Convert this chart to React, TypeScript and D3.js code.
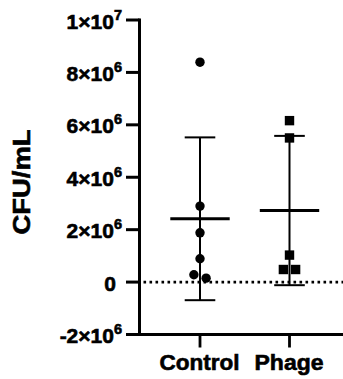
import React from "react";
import * as d3 from "d3";

const groups = ["Control", "Phage"];
const controlValues = [8.39e6, 2.9e6, 1.88e6, 0.89e6, 0.28e6, 0.15e6];
const phageValues = [6.16e6, 5.5e6, 1.03e6, 0.48e6, 0.48e6];
const yTicks = [-2e6, 0, 2e6, 4e6, 6e6, 8e6, 1e7];
const yTickLabels = [
  { base: "-2×10", exp: "6" },
  { base: "0", exp: "" },
  { base: "2×10", exp: "6" },
  { base: "4×10", exp: "6" },
  { base: "6×10", exp: "6" },
  { base: "8×10", exp: "6" },
  { base: "1×10", exp: "7" },
];
const yTitle = "CFU/mL";

const W = 343;
const H = 379;
const FONT = "Arial, 'Liberation Sans', Helvetica, sans-serif";

export default function App() {
  const y = d3.scaleLinear().domain([-2e6, 1e7]).range([334.5, 20]);
  const x = d3.scalePoint().domain(groups).range([200, 289.5]);
  const axisX = 139.5;
  const axisBottom = y(-2e6);
  const series = [controlValues, phageValues];
  const markerSize = 9.4;
  const labelWidths: Record<string, number> = { Control: 80, Phage: 69 };

  const placePoints = (vals: number[]) => {
    const pts = vals.map((v) => ({ v, py: y(v), dx: 0 }));
    const sorted = [...pts].sort((a, b) => a.py - b.py);
    const clusters: typeof pts[] = [];
    sorted.forEach((p) => {
      const last = clusters[clusters.length - 1];
      if (last && Math.abs(p.py - last[last.length - 1].py) < markerSize * 0.6) last.push(p);
      else clusters.push([p]);
    });
    clusters.forEach((c) => {
      const n = c.length;
      c.forEach((p, i) => {
        p.dx = (i - (n - 1) / 2) * (markerSize * 1.3);
      });
    });
    return pts;
  };

  const textStroke = { stroke: "#000", strokeWidth: 0.6 };

  return (
    <svg
      width={W}
      height={H}
      style={{ position: "absolute", left: 0, top: 0, display: "block", background: "#fff" }}
      fontFamily={FONT}
    >
      <line
        x1={axisX + 4}
        x2={W}
        y1={y(0)}
        y2={y(0)}
        stroke="#000"
        strokeWidth={2.6}
        strokeDasharray="2.6 3.4"
      />

      <line x1={axisX} x2={axisX} y1={y(1e7) - 1.5} y2={axisBottom + 1.5} stroke="#000" strokeWidth={3} />
      {yTicks.map((t, i) => (
        <g key={t}>
          <line x1={126} x2={axisX} y1={y(t)} y2={y(t)} stroke="#000" strokeWidth={3} />
          <text
            x={yTickLabels[i].exp ? 122 : 116}
            y={y(t) + 8.6}
            textAnchor="end"
            fontSize={21}
            fontWeight="bold"
            fill="#000"
            {...textStroke}
          >
            {yTickLabels[i].base}
            {yTickLabels[i].exp && (
              <tspan fontSize={14.5} dy={-9}>
                {yTickLabels[i].exp}
              </tspan>
            )}
          </text>
        </g>
      ))}

      <line x1={axisX - 1.5} x2={W} y1={axisBottom} y2={axisBottom} stroke="#000" strokeWidth={3} />
      {groups.map((g) => (
        <g key={g}>
          <line x1={x(g)} x2={x(g)} y1={axisBottom} y2={axisBottom + 13} stroke="#000" strokeWidth={2.8} />
          <text
            x={x(g)! - 0.5}
            y={370}
            textAnchor="middle"
            fontSize={21.5}
            fontWeight="bold"
            fill="#000"
            textLength={labelWidths[g]}
            lengthAdjust="spacingAndGlyphs"
            {...textStroke}
          >
            {g}
          </text>
        </g>
      ))}

      <text
        transform={`translate(30,182) rotate(-90)`}
        textAnchor="middle"
        fontSize={23}
        fontWeight="bold"
        fill="#000"
        textLength={105}
        lengthAdjust="spacingAndGlyphs"
        {...textStroke}
      >
        {yTitle}
      </text>

      {groups.map((g, gi) => {
        const vals = series[gi];
        const m = d3.mean(vals)!;
        const sd = d3.deviation(vals)!;
        const cx = x(g)!;
        const pts = placePoints(vals);
        return (
          <g key={g}>
            <line x1={cx} x2={cx} y1={y(m + sd)} y2={y(m - sd)} stroke="#000" strokeWidth={2} />
            <line x1={cx - 15.3} x2={cx + 15.3} y1={y(m + sd)} y2={y(m + sd)} stroke="#000" strokeWidth={2} />
            <line x1={cx - 15.3} x2={cx + 15.3} y1={y(m - sd)} y2={y(m - sd)} stroke="#000" strokeWidth={2} />
            <line x1={cx - 29.7} x2={cx + 29.7} y1={y(m)} y2={y(m)} stroke="#000" strokeWidth={3} />
            {pts.map((p, i) =>
              gi === 0 ? (
                <circle key={i} cx={cx + p.dx} cy={p.py} r={markerSize / 2} fill="#000" />
              ) : (
                <rect
                  key={i}
                  x={cx + p.dx - markerSize / 2}
                  y={p.py - markerSize / 2}
                  width={markerSize}
                  height={markerSize}
                  fill="#000"
                />
              )
            )}
          </g>
        );
      })}
    </svg>
  );
}
